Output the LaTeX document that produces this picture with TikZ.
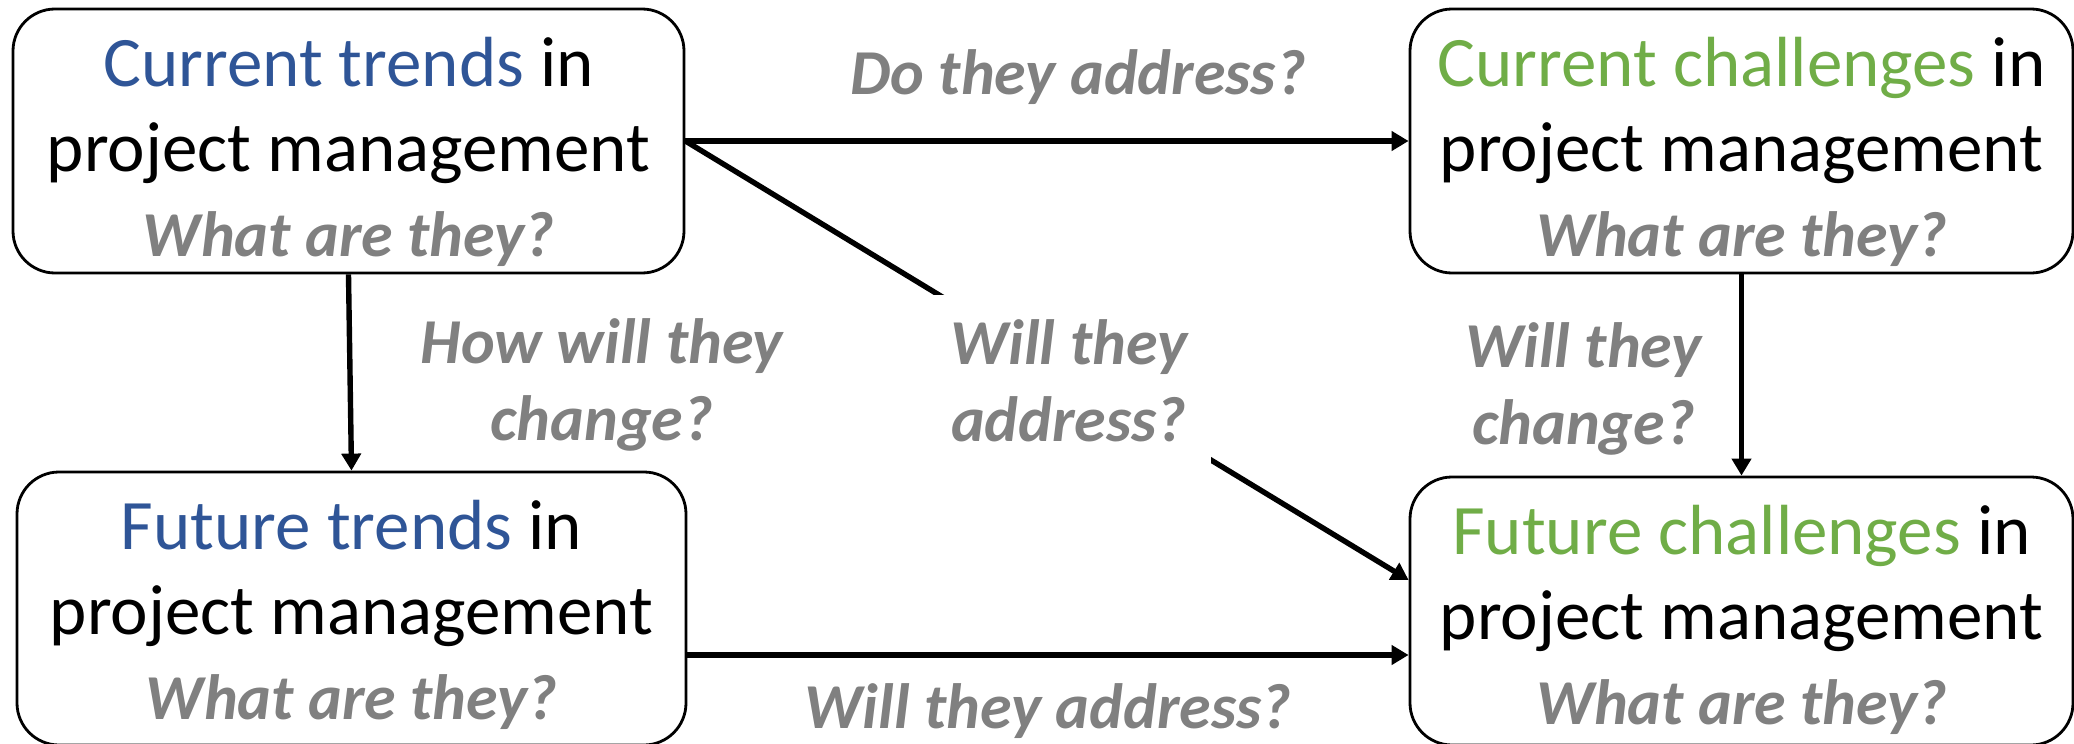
\documentclass[tikz,border=0pt]{standalone}
\usepackage{fontspec}
\setmainfont{Carlito}
\usetikzlibrary{arrows.meta, positioning}
\definecolor{trendBlue}{HTML}{2F5597}
\definecolor{challGreen}{HTML}{70AD47}
\definecolor{askGray}{HTML}{808080}
\newcommand{\askq}[1]{{\fontsize{32}{38.5}\selectfont\color{askGray}\bfseries\itshape #1}}
\tikzset{
  pmbox/.style={draw, line width=1.4pt, rounded corners=21pt, inner sep=0pt},
  pmtext/.style={align=center, inner sep=0pt, anchor=north,
    font=\fontsize{35.5}{42.5}\selectfont},
  link/.style={line width=2.7pt, -{Triangle[length=8.5pt,width=9.5pt]}},
  ask/.style={align=center, inner sep=10pt, text=askGray,
    font=\fontsize{32}{38.5}\selectfont\bfseries\itshape},
}
\begin{document}
\begin{tikzpicture}[x=0.5pt, y=-0.5pt]
  \useasboundingbox (0,0) rectangle (2074,744);
  \clip (0,0) rectangle (2074,744);
  % the four boxes
  \node[pmbox, minimum width=335.5pt, minimum height=132pt] (tl) at (348.5,141) {};
  \node[pmbox, minimum width=331.5pt, minimum height=132pt] (tr) at (1741.5,141) {};
  \node[pmbox, minimum width=334.5pt, minimum height=136.5pt] (bl) at (351.5,608.5) {};
  \node[pmbox, minimum width=331.5pt, minimum height=134pt] (br) at (1741.5,611) {};
  \node[pmtext] (tl-txt) at ([yshift=-14.5pt]tl.north)
    {\textcolor{trendBlue}{Current trends} in\\project management\\\askq{What are they?}};
  \node[pmtext] (tr-txt) at ([yshift=-14.5pt]tr.north)
    {\textcolor{challGreen}{Current challenges} in\\project management\\\askq{What are they?}};
  \node[pmtext] (bl-txt) at ([yshift=-14.5pt]bl.north)
    {\textcolor{trendBlue}{Future trends} in\\project management\\\askq{What are they?}};
  \node[pmtext] (br-txt) at ([yshift=-14.5pt]br.north)
    {\textcolor{challGreen}{Future challenges} in\\project management\\\askq{What are they?}};
  % questions between them
  \draw[link] (tl.east) -- node[ask, pos=0.543, above=7pt] (q-top) {Do they address?} (tr.west);
  \draw[link] (tl.south) -- node[ask, right=24pt, yshift=-6pt] (q-left) {How will they\\change?} (bl.north);
  \draw[link] (tl.east) -- node[ask, fill=white, inner sep=12pt, pos=0.53, yshift=-3.5pt] (q-diag)
    {Will they\\address?} ([yshift=15.5pt]br.west);
  \draw[link] (tr.south) -- node[ask, left=8.5pt, yshift=-7pt] (q-right) {Will they\\change?} (br.north);
  \draw[link] ([yshift=-23.25pt]bl.east) -- node[ask, below=3pt] (q-bottom) {Will they address?}
    ([yshift=-23.25pt]bl.east -| br.west);
\end{tikzpicture}
\end{document}
